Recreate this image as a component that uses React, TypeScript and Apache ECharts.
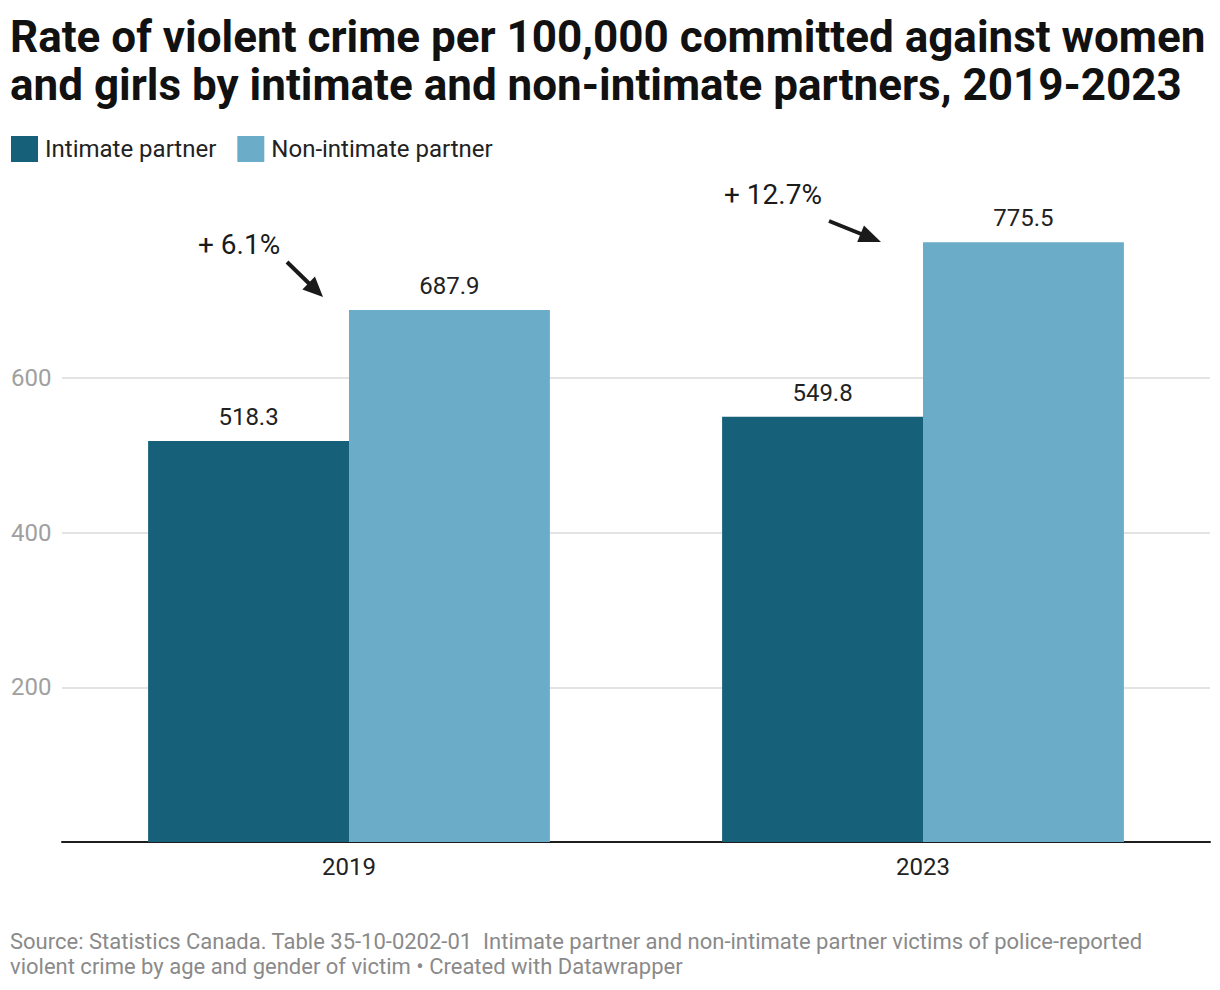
import React, { useEffect, useRef } from "react";
import * as echarts from "echarts";

const categories = ["2019", "2023"];
const intimate = [518.3, 549.8];
const nonIntimate = [687.9, 775.5];
const seriesNames = ["Intimate partner", "Non-intimate partner"];
const yTicks = [0, 200, 400, 600, 800];
const annotations = ["+ 6.1%", "+ 12.7%"];

const TITLE =
  "Rate of violent crime per 100,000 committed against women\nand girls by intimate and non-intimate partners, 2019-2023";
const SOURCE =
  "Source: Statistics Canada. Table 35-10-0202-01  Intimate partner and non-intimate partner victims of police-reported\nviolent crime by age and gender of victim • Created with Datawrapper";

const FONT = "Roboto, 'Noto Sans', sans-serif";
const DARK = "#17607a";
const LIGHT = "#6badc9";

function arrow(x1: number, y1: number, x2: number, y2: number, headLen: number, headW: number) {
  const dx = x2 - x1;
  const dy = y2 - y1;
  const len = Math.sqrt(dx * dx + dy * dy);
  const ux = dx / len;
  const uy = dy / len;
  const bx = x2 - ux * headLen;
  const by = y2 - uy * headLen;
  const px = -uy * (headW / 2);
  const py = ux * (headW / 2);
  return [
    {
      type: "line",
      shape: { x1, y1, x2: bx + ux * 2, y2: by + uy * 2 },
      style: { stroke: "#1a1a1a", lineWidth: 4 },
    },
    {
      type: "polygon",
      shape: { points: [[x2, y2], [bx + px, by + py], [bx - px, by - py]] },
      style: { fill: "#1a1a1a" },
    },
  ];
}

export default function App() {
  const ref = useRef<HTMLDivElement>(null);
  useEffect(() => {
    if (!ref.current) return;
    const chart = echarts.init(ref.current, null, { renderer: "svg" });
    const labelStyle = {
      show: true,
      position: "top" as const,
      distance: 12,
      fontFamily: FONT,
      fontSize: 24,
      color: "#222",
      formatter: (p: any) => p.value.toFixed(1),
    };
    chart.setOption({
      animation: false,
      backgroundColor: "#fff",
      title: {
        text: TITLE,
        left: 10,
        top: 13,
        padding: 0,
        textStyle: {
          fontFamily: FONT,
          fontWeight: "bold",
          fontSize: 44,
          lineHeight: 48,
          color: "#111",
        },
      },
      legend: {
        data: seriesNames,
        left: 11,
        top: 136,
        padding: 0,
        icon: "rect",
        itemWidth: 27,
        itemHeight: 26,
        itemGap: 21,
        textStyle: { fontFamily: FONT, fontSize: 24, color: "#222", padding: [0, 0, 0, 2] },
      },
      grid: { left: 62, right: 10, top: 842 - 800 * 0.7735, bottom: 990 - 842, containLabel: false },
      xAxis: {
        type: "category",
        data: categories,
        axisLine: { show: true, lineStyle: { color: "#1d1d1d", width: 2 } },
        axisTick: { show: false },
        axisLabel: { fontFamily: FONT, fontSize: 24, color: "#222", margin: 13 },
      },
      yAxis: {
        type: "value",
        min: yTicks[0],
        max: yTicks[yTicks.length - 1],
        interval: 200,
        axisLine: { show: false },
        axisTick: { show: false },
        axisLabel: {
          fontFamily: FONT,
          fontSize: 24,
          color: "#a0a0a0",
          align: "left",
          margin: 51,
          formatter: (v: number) => (v === 0 || v === 800 ? "" : String(v)),
        },
        splitLine: { show: true, showMaxLine: false, lineStyle: { color: "#e3e3e3", width: 2 } },
      },
      series: [
        {
          name: seriesNames[0],
          type: "bar",
          data: intimate,
          itemStyle: { color: DARK },
          barGap: "0%",
          barCategoryGap: "30%",
          label: labelStyle,
        },
        {
          name: seriesNames[1],
          type: "bar",
          data: nonIntimate,
          itemStyle: { color: LIGHT },
          barGap: "0%",
          barCategoryGap: "30%",
          label: labelStyle,
        },
      ],
      graphic: [
        {
          type: "text",
          left: 10,
          top: 929,
          style: {
            text: SOURCE,
            fontFamily: FONT,
            fontSize: 22,
            lineHeight: 25,
            fill: "#8a8a8a",
          },
        },
        {
          type: "text",
          x: 198,
          y: 244,
          style: {
            text: annotations[0],
            fontFamily: FONT,
            fontSize: 28,
            fill: "#1a1a1a",
            verticalAlign: "middle",
          },
        },
        {
          type: "text",
          x: 724,
          y: 194,
          style: {
            text: annotations[1],
            fontFamily: FONT,
            fontSize: 28,
            fill: "#1a1a1a",
            verticalAlign: "middle",
          },
        },
        ...arrow(287, 262, 323, 297, 20, 18),
        ...arrow(829, 221, 881, 242, 22, 18),
      ],
    });
    return () => chart.dispose();
  }, []);
  return (
    <div
      ref={ref}
      style={{ position: "fixed", left: 0, top: 0, width: 1220, height: 990 }}
    />
  );
}
